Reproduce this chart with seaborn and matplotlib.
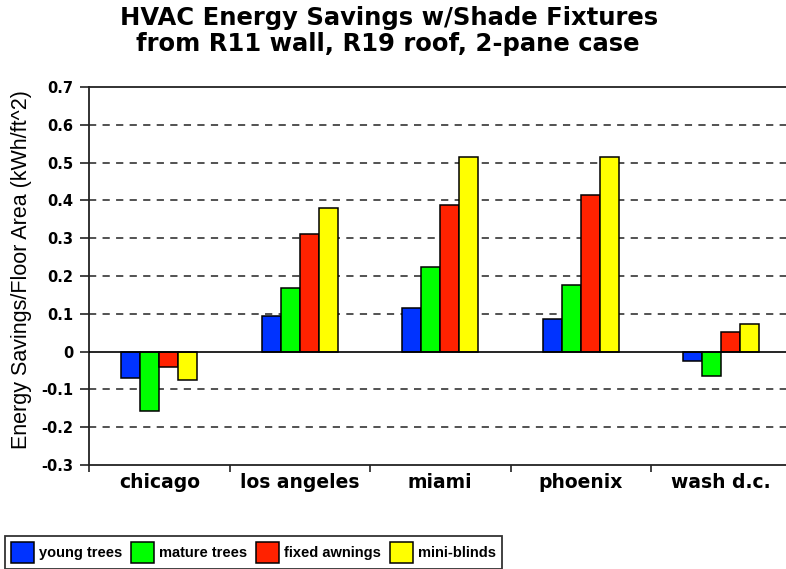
import pandas as pd
import seaborn as sns
import matplotlib.pyplot as plt
from matplotlib.ticker import MultipleLocator, FixedLocator
from matplotlib.patches import Patch

cities = ["chicago", "los angeles", "miami", "phoenix", "wash d.c."]
shades = ["young trees", "mature trees", "fixed awnings", "mini-blinds"]
young_trees = [-0.071, 0.093, 0.116, 0.087, -0.024]
mature_trees = [-0.157, 0.167, 0.223, 0.177, -0.065]
fixed_awnings = [-0.042, 0.310, 0.387, 0.414, 0.051]
mini_blinds = [-0.075, 0.381, 0.516, 0.516, 0.073]
shade_colors = ["#0033FF", "#00FF00", "#FF2200", "#FFFF00"]

rows = []
for name, vals in zip(shades, [young_trees, mature_trees, fixed_awnings, mini_blinds]):
    for city, v in zip(cities, vals):
        rows.append({"city": city, "shade": name, "savings": v})
df = pd.DataFrame(rows)

sns.set_style("white")
plt.rcParams["font.family"] = ["DejaVu Sans"]
plt.rcParams["text.color"] = "black"
plt.rcParams["xtick.color"] = "black"
plt.rcParams["ytick.color"] = "black"

fig = plt.figure(figsize=(7.86, 5.69), dpi=100)
ax = fig.add_axes([89 / 786, 104 / 569, 697 / 786, 378 / 569])

# dashed grid behind bars
for y in [-0.2, -0.1, 0.1, 0.2, 0.3, 0.4, 0.5, 0.6]:
    ax.axhline(y, color="#444444", lw=1.3, ls=(0, (4, 3.5)), zorder=0)
ax.axhline(0, color="black", lw=1.2, zorder=3)

sns.barplot(data=df, x="city", y="savings", hue="shade", order=cities,
            hue_order=shades, palette=shade_colors, width=0.54, gap=0,
            edgecolor="black", linewidth=1.1, saturation=1, ax=ax, zorder=2)

ax.set_xlim(-0.5, -0.5 + 697 / 140.5)
ax.set_ylim(-0.3, 0.7)
ax.yaxis.set_major_locator(MultipleLocator(0.1))
ax.yaxis.set_major_formatter(plt.FuncFormatter(lambda v, p: "0" if abs(v) < 1e-9 else f"{v:.1f}"))

for side in ["top", "left", "bottom"]:
    ax.spines[side].set_visible(True)
    ax.spines[side].set_color("#222222")
    ax.spines[side].set_linewidth(1.3)
ax.spines["right"].set_visible(False)

ax.tick_params(axis="y", which="major", direction="out", length=6.5, width=1.2,
               color="#222222", labelcolor="black", pad=5, left=True, labelsize=10.5)
for lab in ax.get_yticklabels():
    lab.set_fontweight("bold")
ax.tick_params(axis="x", which="major", length=0, pad=6, labelsize=13.5,
               labelcolor="black")
ax.xaxis.set_minor_locator(FixedLocator([-0.5, 0.5, 1.5, 2.5, 3.5]))
ax.tick_params(axis="x", which="minor", direction="out", length=5, width=1.2,
               color="#222222", bottom=True)
for lab in ax.get_xticklabels():
    lab.set_fontweight("bold")
ax.set_xlabel("")
ax.set_ylabel("")
ax.legend_.remove()

fig.text(22 / 786, 1 - 270 / 569, "Energy Savings/Floor Area (kWh/ft^2)",
         rotation=90, ha="center", va="center", fontsize=15.5, color="black",
         family=["Liberation Sans", "DejaVu Sans"])

fig.text(389 / 786, 1 - 18 / 569, "HVAC Energy Savings w/Shade Fixtures",
         ha="center", va="center", fontsize=17.5, fontweight="heavy", color="black")
fig.text(388 / 786, 1 - 44 / 569, "from R11 wall, R19 roof, 2-pane case",
         ha="center", va="center", fontsize=17.5, fontweight="heavy", color="black")

handles = [Patch(facecolor=c, edgecolor="black", linewidth=1.1) for c in shade_colors]
leg = fig.legend(handles, shades, ncol=4, loc="lower left",
                 bbox_to_anchor=(5 / 786, 0.5 / 569), frameon=True, fancybox=False,
                 edgecolor="black", handlelength=1.58, handleheight=1.85,
                 handletextpad=0.35, columnspacing=0.6, borderpad=0.4,
                 borderaxespad=0,
                 prop={"family": ["Liberation Sans", "DejaVu Sans"],
                       "weight": "bold", "size": 10.5})
leg.get_frame().set_linewidth(1.3)
for t in leg.get_texts():
    t.set_color("black")

fig.savefig("out.png", dpi=100, facecolor="white")
